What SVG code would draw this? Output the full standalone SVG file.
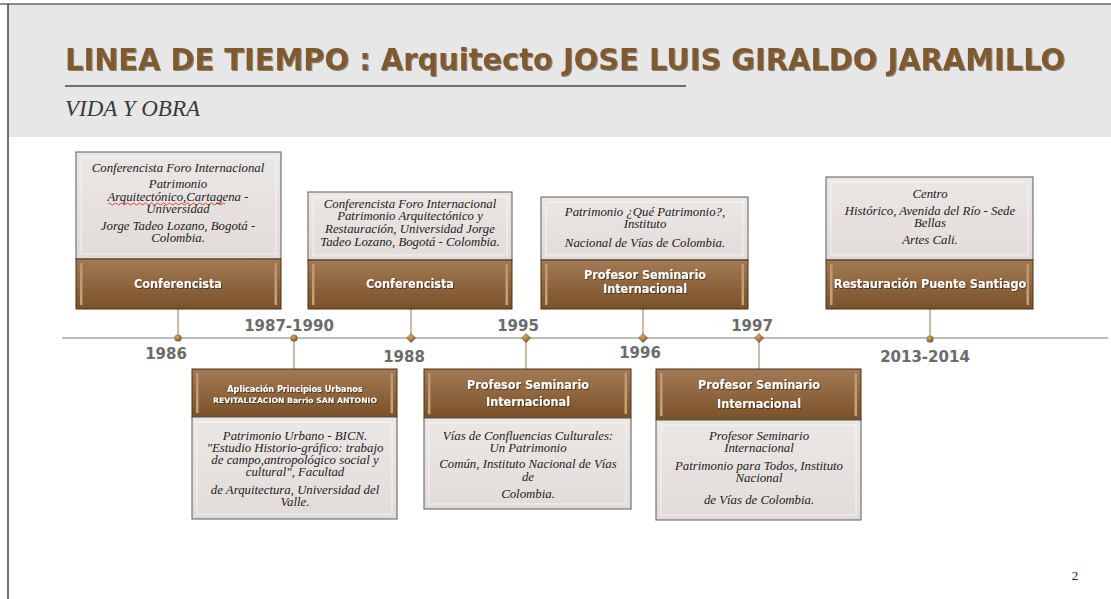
<svg xmlns="http://www.w3.org/2000/svg" width="1111" height="599" viewBox="0 0 1111 599">
<defs>
<linearGradient id="brown" x1="0" y1="0" x2="0" y2="1">
<stop offset="0" stop-color="#a27a55"/>
<stop offset="1" stop-color="#7a5128"/>
</linearGradient>
<linearGradient id="side" x1="0" y1="0" x2="0" y2="1">
<stop offset="0" stop-color="#c9a17a"/>
<stop offset="1" stop-color="#e8c49c"/>
</linearGradient>
<linearGradient id="pale" x1="0" y1="0" x2="0" y2="1">
<stop offset="0" stop-color="#ebe7e5"/>
<stop offset="1" stop-color="#e2dcd9"/>
</linearGradient>
<radialGradient id="dot" cx="0.4" cy="0.35" r="0.7">
<stop offset="0" stop-color="#d9a86e"/>
<stop offset="1" stop-color="#6e4a20"/>
</radialGradient>
<filter id="sh" x="-5%" y="-20%" width="110%" height="140%">
<feDropShadow dx="1" dy="1" stdDeviation="0.6" flood-color="#000" flood-opacity="0.45"/>
</filter>
</defs>
<style>
.pal{fill:url(#pale);stroke:#5a5a5a;stroke-width:1}
.bev{fill:none;stroke:#ffffff;stroke-opacity:0.6;stroke-width:1}
.brn{fill:url(#brown);stroke:#4a3218;stroke-width:1}
.sd{fill:url(#side);opacity:0.7}
.it{font-family:"Liberation Serif","Times New Roman",serif;font-style:italic;font-size:12.8px;fill:#222;text-anchor:middle}
.hd{font-family:"DejaVu Sans Condensed","DejaVu Sans",sans-serif;font-stretch:condensed;font-weight:bold;font-size:12.5px;fill:#fff;text-anchor:middle;filter:url(#sh)}
.sm{font-family:"DejaVu Sans Condensed","DejaVu Sans",sans-serif;font-weight:bold;fill:#fff;text-anchor:middle;filter:url(#sh)}
.yr{font-family:"DejaVu Sans",sans-serif;font-weight:bold;font-size:15px;fill:#6b6b6b;text-anchor:middle}
.cn{stroke:#b8a491;stroke-width:1.5;fill:none}
</style>
<rect x="0" y="0" width="1111" height="599" fill="#ffffff"/>
<rect x="8" y="4" width="1103" height="133" fill="#e7e7e7"/>
<line x1="0" y1="4" x2="1111" y2="4" stroke="#666" stroke-width="1.5"/>
<line x1="8" y1="4" x2="8" y2="599" stroke="#444" stroke-width="1.5"/>
<text x="65" y="70" font-family="DejaVu Sans Condensed,DejaVu Sans,sans-serif" font-stretch="condensed" font-weight="bold" font-size="30" fill="#7f5a2e" textLength="1000" lengthAdjust="spacingAndGlyphs" filter="url(#sh)">LINEA DE TIEMPO : Arquitecto JOSE LUIS GIRALDO JARAMILLO</text>
<line x1="65" y1="86" x2="686" y2="86" stroke="#6e6e6e" stroke-width="2"/>
<text x="65" y="116" font-family="Liberation Serif,serif" font-style="italic" font-size="23" fill="#3a3a3a">VIDA Y OBRA</text>

<g id="timeline">
<line x1="62" y1="338" x2="1108" y2="338" stroke="#bdbdbd" stroke-width="2"/>
</g>

<g id="connectors">
<line class="cn" x1="178" y1="309" x2="178" y2="338"/>
<line class="cn" x1="411" y1="309" x2="411" y2="338"/>
<line class="cn" x1="643" y1="309" x2="643" y2="338"/>
<line class="cn" x1="930" y1="309" x2="930" y2="338"/>
<line class="cn" x1="294" y1="338" x2="294" y2="369"/>
<line class="cn" x1="526" y1="338" x2="526" y2="369"/>
<line class="cn" x1="759" y1="338" x2="759" y2="369"/>
</g>

<g id="markers">
<circle cx="178" cy="338" r="3.6" fill="url(#dot)"/>
<circle cx="294" cy="338" r="3.6" fill="url(#dot)"/>
<path d="M411 333 L416 338 L411 343 L406 338 Z" fill="url(#dot)"/>
<path d="M526 333 L531 338 L526 343 L521 338 Z" fill="url(#dot)"/>
<path d="M643 333 L648 338 L643 343 L638 338 Z" fill="url(#dot)"/>
<path d="M759 333 L764 338 L759 343 L754 338 Z" fill="url(#dot)"/>
<circle cx="930" cy="339" r="3.6" fill="url(#dot)"/>
</g>

<g id="years">
<text class="yr" x="166" y="359">1986</text>
<text class="yr" x="289" y="331">1987-1990</text>
<text class="yr" x="404" y="362">1988</text>
<text class="yr" x="518" y="331">1995</text>
<text class="yr" x="640" y="358">1996</text>
<text class="yr" x="752" y="331">1997</text>
<text class="yr" x="925" y="362">2013-2014</text>
</g>

<g id="node-1986">
<rect class="pal" x="76" y="152" width="205" height="107"/>
<rect class="bev" x="81" y="157" width="195" height="97"/>
<rect class="brn" x="76" y="259" width="205" height="50"/>
<rect class="sd" x="80" y="263" width="2.5" height="42"/>
<rect class="sd" x="274.5" y="263" width="2.5" height="42"/>
<text class="it" x="178" y="172">Conferencista Foro Internacional</text>
<text class="it" x="178" y="188">Patrimonio</text>
<text class="it" x="178" y="201">Arquitectónico,Cartagena -</text>
<path d="M108 204 q1.5 -2 3 0 t3 0 t3 0 t3 0 t3 0 t3 0 t3 0 t3 0 t3 0 t3 0 t3 0 t3 0 t3 0 t3 0 t3 0 t3 0 t3 0 t3 0 t3 0 t3 0 t3 0 t3 0 t3 0 t3 0 t3 0 t3 0 t3 0 t3 0 t3 0 t3 0 t3 0 t3 0 t3 0 t3 0 t3 0 t3 0 t3 0 t3 0 t3 0" fill="none" stroke="#d02020" stroke-width="0.8"/>
<text class="it" x="178" y="213">Universidad</text>
<text class="it" x="178" y="230">Jorge Tadeo Lozano, Bogotá -</text>
<text class="it" x="178" y="242">Colombia.</text>
<text class="hd" x="178" y="288">Conferencista</text>
</g>

<g id="node-1988">
<rect class="pal" x="308" y="192" width="204" height="68"/>
<rect class="bev" x="313" y="197" width="194" height="58"/>
<rect class="brn" x="308" y="260" width="204" height="49"/>
<rect class="sd" x="312" y="264" width="2.5" height="41"/>
<rect class="sd" x="505.5" y="264" width="2.5" height="41"/>
<text class="it" x="410" y="208">Conferencista Foro Internacional</text>
<text class="it" x="410" y="220">Patrimonio Arquitectónico y</text>
<text class="it" x="410" y="233">Restauración, Universidad Jorge</text>
<text class="it" x="410" y="246">Tadeo Lozano, Bogotá - Colombia.</text>
<text class="hd" x="410" y="288">Conferencista</text>
</g>

<g id="node-1996">
<rect class="pal" x="541" y="197" width="207" height="63"/>
<rect class="bev" x="546" y="202" width="197" height="53"/>
<rect class="brn" x="541" y="260" width="207" height="49"/>
<rect class="sd" x="545" y="264" width="2.5" height="41"/>
<rect class="sd" x="741.5" y="264" width="2.5" height="41"/>
<text class="it" x="645" y="216">Patrimonio ¿Qué Patrimonio?,</text>
<text class="it" x="645" y="228">Instituto</text>
<text class="it" x="645" y="247">Nacional de Vías de Colombia.</text>
<text class="hd" x="645" y="279">Profesor Seminario</text>
<text class="hd" x="645" y="293">Internacional</text>
</g>

<g id="node-2013">
<rect class="pal" x="826" y="177" width="207" height="83"/>
<rect class="bev" x="831" y="182" width="197" height="73"/>
<rect class="brn" x="826" y="260" width="207" height="49"/>
<rect class="sd" x="830" y="264" width="2.5" height="41"/>
<rect class="sd" x="1026.5" y="264" width="2.5" height="41"/>
<text class="it" x="930" y="198">Centro</text>
<text class="it" x="930" y="215">Histórico, Avenida del Río - Sede</text>
<text class="it" x="930" y="227">Bellas</text>
<text class="it" x="930" y="244">Artes Cali.</text>
<text class="hd" x="930" y="288">Restauración Puente Santiago</text>
</g>

<g id="node-1987">
<rect class="brn" x="192" y="369" width="205" height="48"/>
<rect class="sd" x="196" y="373" width="2.5" height="40"/>
<rect class="sd" x="390.5" y="373" width="2.5" height="40"/>
<rect class="pal" x="192" y="417" width="205" height="102"/>
<rect class="bev" x="197" y="422" width="195" height="92"/>
<text class="sm" x="295" y="392" style="font-size:9px">Aplicación Principios Urbanos</text>
<text class="sm" x="295" y="403" style="font-size:7.5px" textLength="164" lengthAdjust="spacingAndGlyphs">REVITALIZACION Barrio  SAN ANTONIO</text>
<text class="it" x="295" y="440">Patrimonio Urbano - BICN.</text>
<text class="it" x="295" y="452">"Estudio Historio-gráfico: trabajo</text>
<text class="it" x="295" y="464">de campo,antropológico social y</text>
<text class="it" x="295" y="476">cultural", Facultad</text>
<text class="it" x="295" y="494">de Arquitectura, Universidad del</text>
<text class="it" x="295" y="506">Valle.</text>
</g>

<g id="node-1995">
<rect class="brn" x="424" y="369" width="207" height="49"/>
<rect class="sd" x="428" y="373" width="2.5" height="41"/>
<rect class="sd" x="624.5" y="373" width="2.5" height="41"/>
<rect class="pal" x="424" y="418" width="207" height="91"/>
<rect class="bev" x="429" y="423" width="197" height="81"/>
<text class="hd" x="528" y="389">Profesor Seminario</text>
<text class="hd" x="528" y="406">Internacional</text>
<text class="it" x="528" y="440">Vías de Confluencias Culturales:</text>
<text class="it" x="528" y="452">Un Patrimonio</text>
<text class="it" x="528" y="468">Común, Instituto Nacional de Vías</text>
<text class="it" x="528" y="481">de</text>
<text class="it" x="528" y="498">Colombia.</text>
</g>

<g id="node-1997">
<rect class="brn" x="656" y="369" width="205" height="51"/>
<rect class="sd" x="660" y="373" width="2.5" height="43"/>
<rect class="sd" x="854.5" y="373" width="2.5" height="43"/>
<rect class="pal" x="656" y="420" width="205" height="100"/>
<rect class="bev" x="661" y="425" width="195" height="90"/>
<text class="hd" x="759" y="389">Profesor Seminario</text>
<text class="hd" x="759" y="408">Internacional</text>
<text class="it" x="759" y="440">Profesor Seminario</text>
<text class="it" x="759" y="452">Internacional</text>
<text class="it" x="759" y="470">Patrimonio para Todos, Instituto</text>
<text class="it" x="759" y="482">Nacional</text>
<text class="it" x="759" y="504">de Vías de Colombia.</text>
</g>

<text x="1075" y="580" font-family="Liberation Serif,serif" font-size="13" fill="#222" text-anchor="middle">2</text>
</svg>
